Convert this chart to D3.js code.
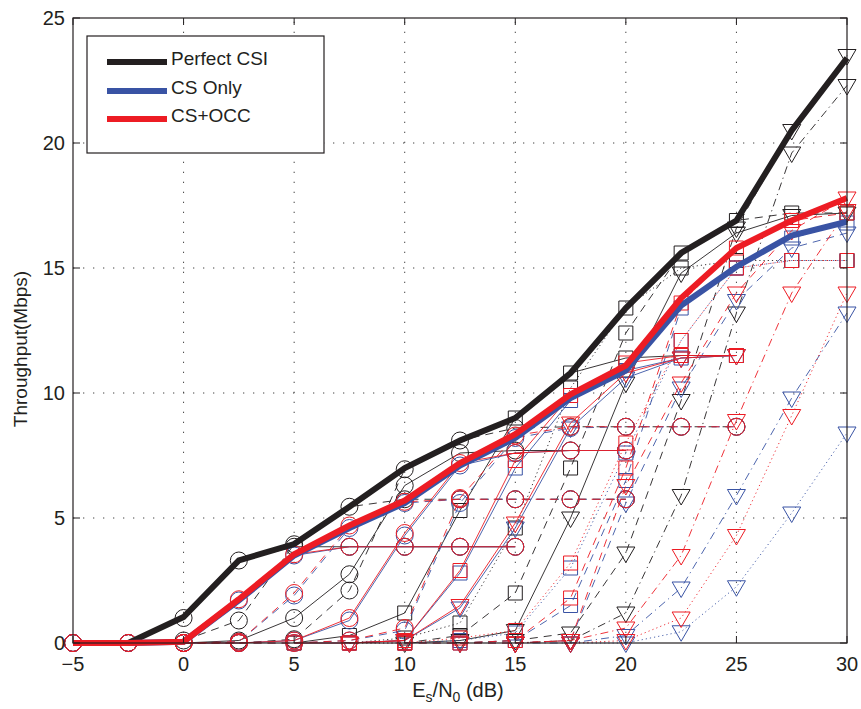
<!DOCTYPE html>
<html>
<head>
<meta charset="utf-8">
<script src="https://cdn.jsdelivr.net/npm/d3@7"></script>
<style>
  body { margin: 0; background: #fff; }
  svg text { font-family: "Liberation Sans", Arial, sans-serif; fill: #231f20; }
</style>
</head>
<body>
<div id="chart"></div>
<script>
const N = null;
const snr = [-5, -2.5, 0, 2.5, 5, 7.5, 10, 12.5, 15, 17.5, 20, 22.5, 25, 27.5, 30];
const xTicks = [-5, 0, 5, 10, 15, 20, 25, 30];
const yTicks = [0, 5, 10, 15, 20, 25];

// thick envelope curves
const perfectCsi = [0, 0, 1.04, 3.3, 3.96, 5.45, 7.0, 8.1, 9.0, 10.8, 13.4, 15.6, 16.9, 20.5, 23.4];
const csOnly     = [0, 0, 0.05, 1.7, 3.5, 4.6, 5.6, 7.1, 8.2, 9.8, 10.9, 13.5, 15.05, 16.3, 16.85];
const csOcc      = [0, 0, 0.05, 1.75, 3.55, 4.7, 5.7, 7.2, 8.35, 9.95, 11.1, 13.8, 15.8, 16.9, 17.8];

// thin per-mode curves, one object per scheme
const perfectModes = {
  c1: [0, 0, 1.0, 3.3, 3.85, 3.85, 3.85, 3.85, 3.85, N, N, N, N, N, N],
  c2: [0, 0, 0.1, 0.9, 3.95, 5.45, 5.75, 5.75, 5.75, 5.75, 5.75, N, N, N, N],
  c3: [N, N, 0, 0.1, 1.0, 2.75, 6.3, 7.6, 7.7, 7.7, 7.7, N, N, N, N],
  c4: [N, N, 0, 0, 0.15, 2.1, 6.95, 8.1, 8.6, 8.65, 8.65, 8.65, 8.65, N, N],
  s1: [N, N, N, N, 0, 0.3, 1.2, 5.3, 9.0, 10.8, 11.4, 11.5, 11.5, N, N],
  s2: [N, N, N, N, N, 0, 0.2, 0.8, 4.6, 10.2, 13.4, 15.0, 15.3, 15.3, 15.3],
  s3: [N, N, N, N, N, N, 0, 0.3, 2.0, 7.0, 12.4, 15.6, 16.9, 17.2, 17.2],
  t1: [N, N, N, N, N, N, 0, 0.1, 0.5, 5.0, 10.4, 14.8, 16.4, 17.1, 17.2],
  t2: [N, N, N, N, N, N, N, 0, 0.1, 0.4, 3.6, 9.7, 16.6, 20.5, 23.5],
  t3: [N, N, N, N, N, N, N, N, 0, 0.1, 1.2, 5.9, 13.2, 19.6, 22.3]
};
const csOnlyModes = {
  c1: [0, 0, 0, 1.7, 3.5, 3.85, 3.85, 3.85, 3.85, N, N, N, N, N, N],
  c2: [0, 0, 0, 0.05, 1.9, 4.6, 5.6, 5.75, 5.75, 5.75, 5.75, N, N, N, N],
  c3: [N, N, 0, 0, 0.1, 0.9, 4.3, 7.1, 7.6, 7.7, 7.7, N, N, N, N],
  c4: [N, N, 0, 0, 0, 0.1, 0.5, 5.6, 8.2, 8.6, 8.65, 8.65, 8.65, N, N],
  s1: [N, N, N, N, 0, 0, 0.1, 2.8, 7.0, 9.7, 10.9, 11.4, 11.5, N, N],
  s2: [N, N, N, N, N, 0, 0, 0.1, 0.4, 3.0, 7.6, 12.1, 15.0, 15.3, 15.3],
  s3: [N, N, N, N, N, N, 0, 0, 0.1, 1.5, 6.5, 13.4, 15.0, 16.2, 16.8],
  t1: [N, N, N, N, N, 0, 0.1, 1.4, 4.6, 8.6, 10.6, 11.4, 11.5, N, N],
  t2: [N, N, N, N, N, N, N, 0, 0, 0.1, 5.6, 10.2, 13.7, 15.8, 16.4],
  t3: [N, N, N, N, N, N, N, N, 0, 0, 0.3, 2.2, 5.9, 9.8, 13.2],
  t4: [N, N, N, N, N, N, N, N, N, 0, 0, 0.45, 2.25, 5.2, 8.4]
};
const csOccModes = {
  c1: [0, 0, 0, 1.75, 3.55, 3.85, 3.85, 3.85, 3.85, N, N, N, N, N, N],
  c2: [0, 0, 0, 0.05, 2.0, 4.7, 5.65, 5.75, 5.75, 5.75, 5.75, N, N, N, N],
  c3: [N, N, 0, 0, 0.1, 1.0, 4.4, 7.2, 7.6, 7.7, 7.7, N, N, N, N],
  c4: [N, N, 0, 0, 0, 0.1, 0.6, 5.8, 8.3, 8.65, 8.65, 8.65, 8.65, N, N],
  s1: [N, N, N, N, 0, 0, 0.1, 2.9, 7.3, 9.9, 11.2, 11.5, 11.5, N, N],
  s2: [N, N, N, N, N, 0, 0, 0.2, 0.5, 3.2, 8.0, 12.1, 15.0, 15.3, 15.3],
  s3: [N, N, N, N, N, N, 0, 0, 0.1, 1.8, 7.0, 13.6, 15.8, 16.9, 17.2],
  t1: [N, N, N, N, N, 0, 0.1, 1.5, 4.8, 8.8, 10.8, 11.4, 11.5, N, N],
  t2: [N, N, N, N, N, N, N, 0, 0, 0.1, 6.3, 10.4, 14.0, 16.5, 17.8],
  t3: [N, N, N, N, N, N, N, N, 0, 0.1, 0.6, 3.5, 8.9, 14.0, 17.3],
  t4: [N, N, N, N, N, N, N, N, N, 0, 0.1, 1.0, 4.3, 9.1, 14.0]
};
const legendLabels = ["Perfect CSI", "CS Only", "CS+OCC"];

// styles
const colors = { perfect: "#231f20", cs: "#3953a4", occ: "#ed1c24" };
const modeStyle = {
  c1: { marker: "circle", dash: null },
  c2: { marker: "circle", dash: "8,6" },
  c3: { marker: "circle", dash: null },
  c4: { marker: "circle", dash: "8,6" },
  s1: { marker: "square", dash: null },
  s2: { marker: "square", dash: "1.2,3" },
  s3: { marker: "square", dash: "8,6" },
  t1: { marker: "tri", dash: null },
  t2: { marker: "tri", dash: "8,6" },
  t3: { marker: "tri", dash: "8,4,1.2,4" },
  t4: { marker: "tri", dash: "1.2,3" }
};

const W = 861, H = 709;
const x = d3.scaleLinear().domain([-5, 30]).range([73, 847]);
const y = d3.scaleLinear().domain([0, 25]).range([643, 18]);

const svg = d3.select("#chart").append("svg").attr("width", W).attr("height", H);

// grid
svg.append("g").selectAll("line").data(xTicks.slice(1, -1)).join("line")
  .attr("x1", d => x(d)).attr("x2", d => x(d)).attr("y1", y(0)).attr("y2", y(25))
  .attr("stroke", "#444").attr("stroke-width", 1).attr("stroke-dasharray", "1.3,8.7");
svg.append("g").selectAll("line").data(yTicks.slice(1, -1)).join("line")
  .attr("x1", x(-5)).attr("x2", x(30)).attr("y1", d => y(d)).attr("y2", d => y(d))
  .attr("stroke", "#444").attr("stroke-width", 1).attr("stroke-dasharray", "1.3,8.7");

const line = d3.line().defined(d => d[1] != null).x(d => x(d[0])).y(d => y(d[1]));

function markerPath(type) {
  if (type === "circle") return "M-8.5,0A8.5,8.5 0 1,0 8.5,0A8.5,8.5 0 1,0 -8.5,0Z";
  if (type === "square") return "M-7,-7H7V7H-7Z";
  return "M-9,-6H9L0,9.5Z";
}

function drawModes(modes, color) {
  const g = svg.append("g");
  Object.keys(modes).forEach(id => {
    const pts = snr.map((s, i) => [s, modes[id][i]]);
    const st = modeStyle[id];
    g.append("path").attr("d", line(pts)).attr("fill", "none")
      .attr("stroke", color).attr("stroke-width", 0.9)
      .attr("stroke-dasharray", st.dash);
    g.selectAll(null).data(pts.filter(p => p[1] != null)).join("path")
      .attr("transform", p => `translate(${x(p[0])},${y(p[1])})`)
      .attr("d", markerPath(st.marker))
      .attr("fill", "none").attr("stroke", color).attr("stroke-width", 1);
  });
}
drawModes(perfectModes, colors.perfect);
drawModes(csOnlyModes, colors.cs);
drawModes(csOccModes, colors.occ);

// envelopes
[[perfectCsi, colors.perfect], [csOnly, colors.cs], [csOcc, colors.occ]].forEach(([vals, c]) => {
  svg.append("path").attr("d", line(snr.map((s, i) => [s, vals[i]])))
    .attr("fill", "none").attr("stroke", c).attr("stroke-width", 6)
    .attr("stroke-linejoin", "miter");
});

// frame and ticks
svg.append("rect").attr("x", x(-5)).attr("y", y(25)).attr("width", x(30) - x(-5)).attr("height", y(0) - y(25))
  .attr("fill", "none").attr("stroke", "#231f20").attr("stroke-width", 1.2);
const tk = svg.append("g").attr("stroke", "#231f20").attr("stroke-width", 1);
xTicks.forEach(t => {
  tk.append("line").attr("x1", x(t)).attr("x2", x(t)).attr("y1", y(0)).attr("y2", y(0) - 7);
  tk.append("line").attr("x1", x(t)).attr("x2", x(t)).attr("y1", y(25)).attr("y2", y(25) + 7);
});
yTicks.forEach(t => {
  tk.append("line").attr("x1", x(-5)).attr("x2", x(-5) + 7).attr("y1", y(t)).attr("y2", y(t));
  tk.append("line").attr("x1", x(30)).attr("x2", x(30) - 7).attr("y1", y(t)).attr("y2", y(t));
});

svg.append("g").selectAll("text").data(xTicks).join("text")
  .attr("x", d => x(d)).attr("y", 671).attr("text-anchor", "middle").attr("font-size", 20)
  .text(d => d < 0 ? "\u2212" + Math.abs(d) : d);
svg.append("g").selectAll("text").data(yTicks).join("text")
  .attr("x", 65).attr("y", d => y(d) + 7).attr("text-anchor", "end").attr("font-size", 20)
  .text(d => d);

// axis labels
const xl = svg.append("text").attr("x", 458).attr("y", 697).attr("text-anchor", "middle").attr("font-size", 20);
xl.append("tspan").text("E");
xl.append("tspan").attr("font-size", 14).attr("dy", 5).text("s");
xl.append("tspan").attr("dy", -5).text("/N");
xl.append("tspan").attr("font-size", 14).attr("dy", 5).text("0");
xl.append("tspan").attr("dy", -5).text(" (dB)");
svg.append("text").attr("transform", "translate(27,349) rotate(-90)")
  .attr("text-anchor", "middle").attr("font-size", 19).text("Throughput(Mbps)");

// legend
const lg = svg.append("g");
lg.append("rect").attr("x", 87).attr("y", 36).attr("width", 237).attr("height", 117)
  .attr("fill", "#fff").attr("stroke", "#231f20").attr("stroke-width", 1.2);
const legendColors = [colors.perfect, colors.cs, colors.occ];
const legendY = [62, 91, 119];
legendLabels.forEach((lab, i) => {
  lg.append("line").attr("x1", 107).attr("x2", 167).attr("y1", legendY[i]).attr("y2", legendY[i])
    .attr("stroke", legendColors[i]).attr("stroke-width", 6);
  lg.append("text").attr("x", 171).attr("y", legendY[i] + 3).attr("font-size", 19).text(lab);
});
</script>
</body>
</html>
